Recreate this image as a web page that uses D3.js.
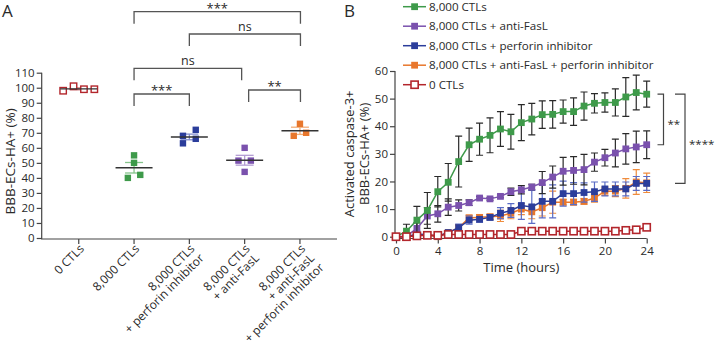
<!DOCTYPE html>
<html><head><meta charset="utf-8">
<script src="https://cdn.jsdelivr.net/npm/d3@7"></script>
<style>
body{margin:0;background:#fff}
svg{display:block}
text{font-family:"Open Sans",sans-serif;fill:#2a2a2a}
</style>
</head><body>
<svg id="c" width="716" height="346"></svg>
<script>
// ---------- Panel A data ----------
const groupLabels = [
  ["0 CTLs"],
  ["8,000 CTLs"],
  ["8,000 CTLs", "+ perforin inhibitor"],
  ["8,000 CTLs", "+ anti-FasL"],
  ["8,000 CTLs", "+ anti-FasL", "+ perforin inhibitor"]
];
const groupValues = [
  [98, 101, 99, 99],
  [55, 50, 40, 42],
  [63, 66, 68, 72],
  [60, 51.5, 51.5, 44],
  [76, 68, 70]
];
const yTicksA = [0, 10, 20, 30, 40, 50, 60, 70, 80, 90, 100, 110];
const comparisonsA = [
  [1, 2, "***"],
  [3, 4, "**"],
  [1, 3, "ns"],
  [2, 4, "ns"],
  [1, 4, "***"]
];

// ---------- Panel B data ----------
const timeHours = [0,1,2,3,4,5,6,7,8,9,10,11,12,13,14,15,16,17,18,19,20,21,22,23,24];
const seriesNames = [
  "8,000 CTLs",
  "8,000 CTLs + anti-FasL",
  "8,000 CTLs + perforin inhibitor",
  "8,000 CTLs + anti-FasL + perforin inhibitor",
  "0 CTLs"
];
const ctl8000      = [0,2,6,9.5,16.3,19.7,27.2,33.3,35.3,36.7,39,38,41.3,42.6,44.2,44.3,45.3,45.3,47.3,48.3,48.6,48.6,50.6,52.2,51.6];
const ctl8000Err   = [0,2.5,5,6.5,5.5,6.8,9.2,6,5.8,6.3,6.3,6.3,6.5,5.7,5,5,4.2,5,5.1,3.5,3.5,4.9,7,6.3,4.7];
const antiFasL     = [0,0.2,3,7.5,8.3,10.7,11.3,12.3,14,13.7,14.6,16.3,17,18,19.6,21.6,23.7,24,24.3,27,28.6,30.3,31.8,32.5,33.3];
const antiFasLErr  = [0,0.5,2,3,3,3,2,1,0.5,0.5,0.5,1.3,1.5,1,4,4,5,5,5.5,3.3,3,5,5.5,5.7,5];
const perforin     = [0,0,1,0.7,0.2,1.5,3.3,6,6.3,7,8.5,9.5,11.3,10.8,12.8,12.8,15.6,15.6,16,16.3,17.3,17.3,17.3,19.3,19.3];
const perforinErr  = [0,0,0.5,0.5,0.5,0.5,1.3,1.5,1,1,2,2.5,5,6,6,6,4.5,4,3.5,3.5,2.5,2.5,2.5,2.5,2.5];
const combined     = [0,0,0.5,0.5,0,1.5,3.3,6.8,7,7.2,7.5,8.5,10,9,10.5,12.5,12.5,12.5,12.8,14,16.5,16.5,17.5,19.8,19.5];
const combinedErr  = [0,0,0.5,0.5,1,0.5,1,1,1,1,2,2,2,2.5,3,4,1,1,1,1.5,1.5,2,3.5,4.5,3.5];
const noCTL        = [0,0,0.3,0.5,0.5,0.8,0.8,0.8,0.8,0.8,0.8,0.8,2,2,2,2,2,2,2,2,2,2,2.3,2.5,3.4];
const yTicksB = [0, 10, 20, 30, 40, 50, 60];
const xTicksB = [0, 4, 8, 12, 16, 20, 24];
const comparisonsB = [[0, 1, "**"], [0, 2, "****"]];

// ---------- styles ----------
const colA = ["#b3262c", "#3e9a4a", "#2b3d9b", "#7a51ad", "#e8772c"];
const semColA = ["#cf7a7d", "#86c48c", "#8590d0", "#b39cd3", "#f2ad77"];
const colB = ["#3e9a4a", "#7a51ad", "#2b3d9b", "#e8772c", "#b3262c"];
const errColB = ["#2a2a2a", "#2a2a2a", "#5a6cc6", "#ef8c3d", "#b3262c"];
const axisCol = "#444";

const svg = d3.select("#c");

// ================= Panel A =================
const gA = svg.append("g");
const xA = d3.scalePoint().domain(d3.range(groupLabels.length)).range([41.7, 337]).padding(0.67);
const yA = d3.scaleLinear().domain([0, 110]).range([238, 72.7]);

gA.append("text").attr("x", 2).attr("y", 17).style("font-size", "17px").text("A");

// y axis
const yAxA = gA.append("g").attr("transform", "translate(41.7,0)")
  .call(d3.axisLeft(yA).tickValues(yTicksA).tickSize(5).tickPadding(2).tickSizeOuter(0));
yAxA.select(".domain").attr("stroke", axisCol).attr("stroke-width", 1.2).attr("d", `M0,${yA(110)}V${yA(0)+1}`);
yAxA.selectAll(".tick line").attr("stroke", axisCol).attr("stroke-width", 1.2);
yAxA.selectAll(".tick text").style("font-size", "11.5px").attr("fill", "#2a2a2a");

gA.append("text").attr("transform", `translate(14.5,${(yA(0)+yA(110))/2 + 6}) rotate(-90)`)
  .attr("text-anchor", "middle").style("font-size", "13.5px").text("BBB-ECs-HA+ (%)");

// x axis
const xAxA = gA.append("g").attr("transform", "translate(0,239)");
xAxA.append("line").attr("x1", 41.1).attr("x2", 337).attr("stroke", axisCol).attr("stroke-width", 1.2);
xA.domain().forEach(i => {
  const x = xA(i);
  xAxA.append("line").attr("x1", x).attr("x2", x).attr("y1", 0).attr("y2", 5).attr("stroke", axisCol).attr("stroke-width", 1.2);
  const t = gA.append("text").attr("transform", `translate(${x + 6},${249.5}) rotate(-45)`)
    .attr("text-anchor", "end").style("font-size", "12px");
  groupLabels[i].forEach((ln, k) => {
    t.append("tspan").attr("x", 0).attr("dy", k === 0 ? 0 : "1.1em").text(ln);
  });
});

// points with simple collision spreading
function offsets(vals) {
  const px = vals.map(v => yA(v));
  const order = d3.range(vals.length).sort((a, b) => px[a] - px[b]);
  const clusters = [];
  let cur = [order[0]];
  for (let k = 1; k < order.length; k++) {
    if (px[order[k]] - px[order[k-1]] < 7) cur.push(order[k]);
    else { clusters.push(cur); cur = [order[k]]; }
  }
  clusters.push(cur);
  const off = new Array(vals.length).fill(0);
  clusters.forEach(c => {
    if (c.length < 2) return;
    c.sort((a, b) => a - b);
    const span = d3.max(c, i => px[i]) - d3.min(c, i => px[i]);
    if (span < 7) c.forEach((i, k) => off[i] = (k - (c.length - 1) / 2) * (c.length > 2 ? 10.4 : 12.4));
    else c.forEach((i, k) => off[i] = (k % 2 === 0 ? -6.4 : 6.4));
  });
  return off;
}

groupValues.forEach((vals, i) => {
  const cx = xA(i);
  const m = d3.mean(vals);
  const sem = d3.deviation(vals) / Math.sqrt(vals.length);
  const g = gA.append("g");
  // SEM bar
  g.append("line").attr("x1", cx).attr("x2", cx).attr("y1", yA(m + sem)).attr("y2", yA(m - sem))
    .attr("stroke", semColA[i]).attr("stroke-width", 1.3);
  [m + sem, m - sem].forEach(v => g.append("line").attr("x1", cx - 9).attr("x2", cx + 9)
    .attr("y1", yA(v)).attr("y2", yA(v)).attr("stroke", semColA[i]).attr("stroke-width", 1.3));
  const off = offsets(vals);
  vals.forEach((v, k) => {
    const s = 6.4;
    const r = g.append("rect").attr("x", cx + off[k] - s/2).attr("y", yA(v) - s/2).attr("width", s).attr("height", s);
    if (i === 0) r.attr("fill", "#fff").attr("stroke", colA[i]).attr("stroke-width", 1.4);
    else r.attr("fill", colA[i]);
  });
  // mean line
  g.append("line").attr("x1", cx - 18.5).attr("x2", cx + 18.5).attr("y1", yA(m)).attr("y2", yA(m))
    .attr("stroke", "#333").attr("stroke-width", 1.4);
});

// brackets
const bracketTops = [94, 90, 68.3, 34, 11.7];
comparisonsA.forEach(([a, b, lab], k) => {
  const top = bracketTops[k];
  const leg = 12;
  const xa = xA(a) + (a === 3 ? 4 : 0), xb = xA(b) - (b === 3 ? 3 : 0) + (b === 4 ? 0.5 : 0);
  gA.append("path").attr("d", `M${xa},${top+leg}V${top}H${xb}V${top+leg}`)
    .attr("fill", "none").attr("stroke", "#555").attr("stroke-width", 1.3);
  const star = lab.indexOf("*") >= 0;
  gA.append("text").attr("x", (xa + xb) / 2).attr("y", star ? top + 1 : top - 3.5)
    .attr("text-anchor", "middle").style("font-size", star ? "13px" : "12.5px").text(lab);
});

// ================= Panel B =================
const gB = svg.append("g");
const xB = d3.scaleLinear().domain([0, 24]).range([396, 646.7]);
const yB = d3.scaleLinear().domain([0, 60]).range([236.7, 71]);

gB.append("text").attr("x", 344).attr("y", 17).style("font-size", "17px").text("B");

const yAxB = gB.append("g").attr("transform", "translate(395,0)")
  .call(d3.axisLeft(yB).tickValues(yTicksB).tickSize(5).tickPadding(2).tickSizeOuter(0));
yAxB.select(".domain").attr("stroke", axisCol).attr("stroke-width", 1.2).attr("d", `M0,${yB(60)}V${yB(0)+2}`);
yAxB.selectAll(".tick line").attr("stroke", axisCol).attr("stroke-width", 1.2);
yAxB.selectAll(".tick text").style("font-size", "11.5px").attr("fill", "#2a2a2a");

const xAxB = gB.append("g").attr("transform", "translate(0,238.5)")
  .call(d3.axisBottom(xB).tickValues(xTicksB).tickSize(5).tickPadding(3).tickSizeOuter(0));
xAxB.select(".domain").attr("stroke", axisCol).attr("stroke-width", 1.2).attr("d", `M${xB(0)-1},0H${xB(24)}`);
xAxB.selectAll(".tick line").attr("stroke", axisCol).attr("stroke-width", 1.2);
xAxB.selectAll(".tick text").style("font-size", "11.5px").attr("fill", "#2a2a2a");

gB.append("text").attr("x", (xB(0) + xB(24)) / 2).attr("y", 272).attr("text-anchor", "middle")
  .style("font-size", "13px").text("Time (hours)");

const ytB = gB.append("text").attr("transform", `translate(354,${(yB(0)+yB(60))/2}) rotate(-90)`)
  .attr("text-anchor", "middle").style("font-size", "13px");
ytB.append("tspan").attr("x", 0).attr("dy", 0).text("Activated caspase-3+");
ytB.append("tspan").attr("x", 0).attr("dy", "1.18em").text("BBB-ECs-HA+ (%)");

const seriesVals = [ctl8000, antiFasL, perforin, combined, noCTL];
const seriesErrs = [ctl8000Err, antiFasLErr, perforinErr, combinedErr, null];
const drawOrder = [3, 2, 1, 0, 4];
const line = d3.line().x((d, i) => xB(timeHours[i])).y(d => yB(d));

drawOrder.forEach(s => {
  const g = gB.append("g");
  const vals = seriesVals[s], errs = seriesErrs[s];
  if (errs) {
    vals.forEach((v, i) => {
      const e = errs[i];
      if (!e) return;
      const x = xB(timeHours[i]);
      g.append("path").attr("d", `M${x},${yB(v+e)}V${yB(v-e)}M${x-3.5},${yB(v+e)}H${x+3.5}M${x-3.5},${yB(v-e)}H${x+3.5}`)
        .attr("fill", "none").attr("stroke", errColB[s]).attr("stroke-width", 1.2);
    });
  }
  g.append("path").attr("d", line(vals)).attr("fill", "none").attr("stroke", colB[s]).attr("stroke-width", 1.5);
  vals.forEach((v, i) => {
    const x = xB(timeHours[i]);
    const r = g.append("rect");
    if (s === 4) r.attr("x", x - 3.6).attr("y", yB(v) - 3.6).attr("width", 7.2).attr("height", 7.2)
      .attr("fill", "#fff").attr("stroke", colB[s]).attr("stroke-width", 1.6);
    else r.attr("x", x - 3.4).attr("y", yB(v) - 3.4).attr("width", 6.8).attr("height", 6.8).attr("fill", colB[s]);
  });
});

// legend
seriesNames.forEach((name, i) => {
  const y = 6.7 + i * 19.5;
  const g = gB.append("g");
  g.append("line").attr("x1", 403).attr("x2", 426).attr("y1", y).attr("y2", y).attr("stroke", colB[i]).attr("stroke-width", 1.5);
  if (i === 4) g.append("rect").attr("x", 411).attr("y", y - 3.6).attr("width", 7.2).attr("height", 7.2)
    .attr("fill", "#fff").attr("stroke", colB[i]).attr("stroke-width", 1.6);
  else g.append("rect").attr("x", 411.2).attr("y", y - 3.4).attr("width", 6.8).attr("height", 6.8).attr("fill", colB[i]);
  g.append("text").attr("x", 429).attr("y", y + 4.2).style("font-size", "11.6px").text(name);
});

// brackets panel B
const lastIdx = timeHours.length - 1;
const bx = [[657.5, 663.5], [675, 685]];
comparisonsB.forEach(([a, b, lab], k) => {
  const ya = yB(seriesVals[a][lastIdx]), yb = yB(seriesVals[b][lastIdx]);
  const [x0, x1] = bx[k];
  gB.append("path").attr("d", `M${x0},${ya}H${x1}V${yb}H${x0}`)
    .attr("fill", "none").attr("stroke", "#444").attr("stroke-width", 1.2);
  gB.append("text").attr("x", x1 + 4).attr("y", (ya + yb) / 2 + 9).style("font-size", "11.5px").text(lab);
});
</script>
</body></html>
